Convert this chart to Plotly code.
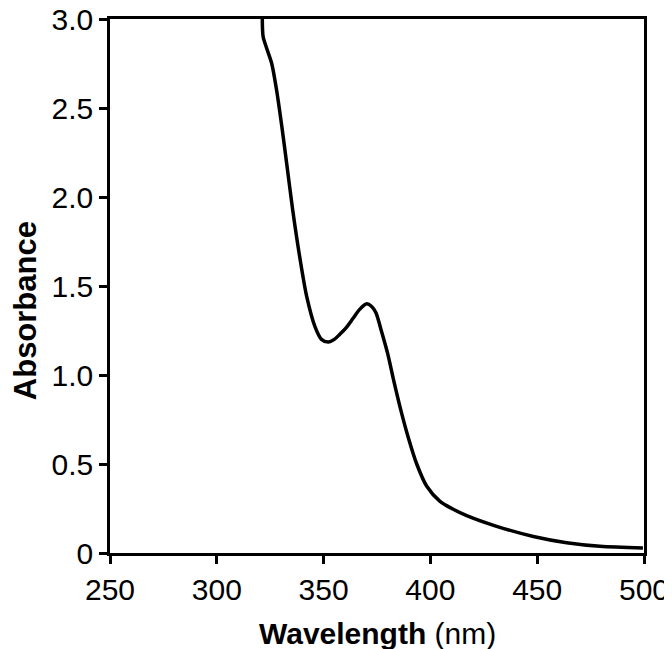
import plotly.graph_objects as go

# Data
wavelength = [321.3, 321.7, 323.5, 325.7, 328.0, 330.4, 332.7, 335.5, 339.0, 342.1,
              346.0, 349.0, 352.2, 355.0, 357.7, 360.5, 363.9, 367.0, 370.2, 372.5,
              374.5, 377.0, 380.0, 383.0, 386.0, 389.5, 393.6, 398.3, 404.5, 410.0,
              417.0, 431.0, 448.2, 463.8, 479.4, 499.5]
absorbance = [3.00, 2.90, 2.83, 2.75, 2.60, 2.40, 2.19, 1.93, 1.65, 1.44,
              1.27, 1.20, 1.185, 1.20, 1.23, 1.265, 1.32, 1.37, 1.40, 1.385,
              1.35, 1.25, 1.12, 0.96, 0.81, 0.655, 0.50, 0.375, 0.29, 0.25,
              0.21, 0.15, 0.093, 0.058, 0.038, 0.028]

x_ticks = [250, 300, 350, 400, 450, 500]
y_ticks = [0, 0.5, 1.0, 1.5, 2.0, 2.5, 3.0]
y_tick_labels = ["0", "0.5", "1.0", "1.5", "2.0", "2.5", "3.0"]

FONT = "Arial, Liberation Sans, sans-serif"

fig = go.Figure()
fig.add_trace(go.Scatter(
    x=wavelength, y=absorbance, mode="lines",
    line=dict(color="black", width=3.5, shape="spline", smoothing=0.8),
    showlegend=False, hoverinfo="skip", cliponaxis=True,
))

axis_common = dict(
    showline=True, linecolor="black", linewidth=2.5, mirror=True,
    ticks="outside", ticklen=8, tickwidth=2.5, tickcolor="black",
    showgrid=False, zeroline=False, automargin=False,
    ticklabeloverflow="allow",
    tickfont=dict(family=FONT, size=30, color="black"),
)

fig.update_layout(
    width=664, height=641,
    margin=dict(l=102, r=28, t=11, b=96),
    paper_bgcolor="white", plot_bgcolor="white",
    font=dict(family=FONT, size=30, color="black"),
    xaxis=dict(range=[250, 500], tickvals=x_ticks, **axis_common),
    yaxis=dict(range=[0, 3.0], tickvals=y_ticks, ticktext=y_tick_labels, **axis_common),
    annotations=[
        dict(text="<b>Wavelength</b> (nm)", xref="paper", yref="paper",
             x=0.5, y=-0.15, xanchor="center", yanchor="middle",
             showarrow=False, font=dict(family=FONT, size=30, color="black")),
        dict(text="<b>Absorbance</b>", xref="paper", yref="paper",
             x=-0.159, y=0.453, xanchor="center", yanchor="middle", textangle=-90,
             showarrow=False, font=dict(family=FONT, size=31, color="black")),
    ],
)

fig.write_html("out.html")
